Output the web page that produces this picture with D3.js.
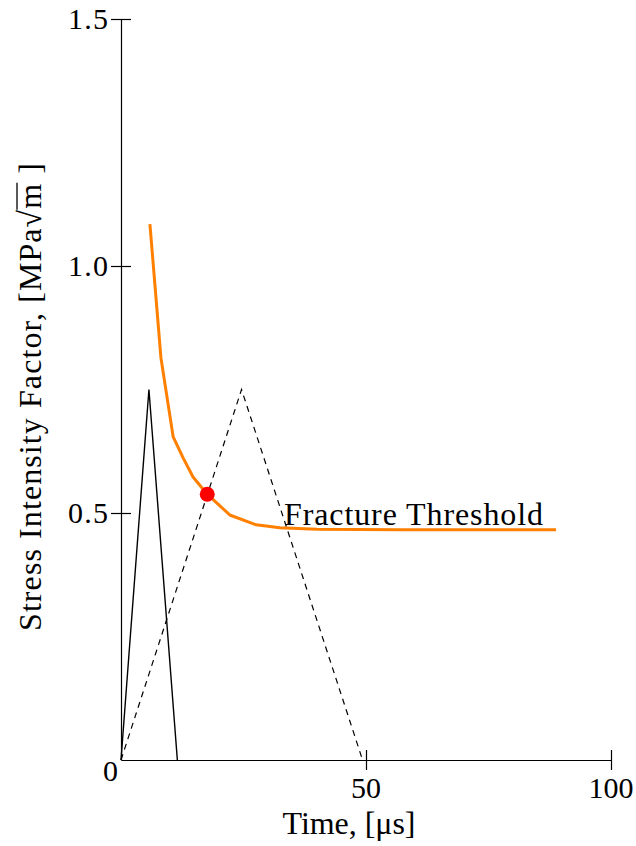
<!DOCTYPE html>
<html>
<head>
<meta charset="utf-8">
<script src="https://cdn.jsdelivr.net/npm/d3@7"></script>
<style>
  html, body { margin: 0; padding: 0; background: #fff; }
  svg { display: block; }
  text { font-family: "Liberation Serif", "DejaVu Serif", serif; fill: #000; }
</style>
</head>
<body>
<svg id="chart" width="636" height="846"></svg>
<script>
// Axis ticks
const timeTicks = [50, 100];
const timeTickLabels = ["50", "100"];
const sifTicks = [0.5, 1.0, 1.5];
const sifTickLabels = ["0.5", "1.0", "1.5"];

// Short loading pulse (solid)
const shortPulseTime = [0, 5.7, 11.5];
const shortPulseK = [0, 0.75, 0];

// Long loading pulse (dashed)
const longPulseTime = [0, 24.6, 49.3];
const longPulseK = [0, 0.75, 0];

// Fracture threshold curve
const thresholdTime = [5.9, 8.15, 10.65, 12.7, 14.7, 17.6, 22.2, 27.6, 32.4, 40, 56.8, 88.8];
const thresholdK = [1.085, 0.814, 0.654, 0.611, 0.573, 0.538, 0.496, 0.476, 0.470, 0.467, 0.466, 0.466];

// Fracture initiation point
const fracturePoint = { time: 17.6, k: 0.538 };

const svg = d3.select("#chart");
const x = d3.scaleLinear().domain([0, 100]).range([121, 611]);
const y = d3.scaleLinear().domain([0, 1.5]).range([760, 19]);
const FS = 30;   // tick numbers
const FT = 32;   // titles and curve label

// Y axis: ticks cross the axis line
const yAxis = svg.append("g")
  .attr("transform", `translate(${x(0)},0)`)
  .call(d3.axisLeft(y).tickValues(sifTicks).tickSize(10).tickSizeOuter(0).tickFormat(""));
yAxis.selectAll(".tick line").attr("x1", 10);
// X axis
const xAxis = svg.append("g")
  .attr("transform", `translate(0,${y(0)})`)
  .call(d3.axisBottom(x).tickValues(timeTicks).tickSize(10).tickSizeOuter(0).tickFormat(""));
xAxis.selectAll(".tick line").attr("y1", -10);
svg.selectAll(".domain, .tick line").attr("stroke", "#000").attr("stroke-width", 1.2);

// Tick labels
svg.selectAll(".ylab").data(sifTicks).join("text")
  .attr("class", "ylab")
  .attr("x", 108).attr("y", d => y(d) + 10)
  .attr("text-anchor", "end").attr("font-size", FS)
  .attr("textLength", 40).attr("lengthAdjust", "spacing")
  .text((d, i) => sifTickLabels[i]);
svg.selectAll(".xlab").data(timeTicks).join("text")
  .attr("class", "xlab")
  .attr("x", d => x(d)).attr("y", 798)
  .attr("text-anchor", "middle").attr("font-size", FS)
  .text((d, i) => timeTickLabels[i]);
svg.append("text")
  .attr("x", 118).attr("y", 781)
  .attr("text-anchor", "end").attr("font-size", FS)
  .text("0");

// Series
const line = d3.line().x(d => x(d[0])).y(d => y(d[1]));

svg.append("path")
  .attr("d", line(d3.zip(longPulseTime, longPulseK)))
  .attr("fill", "none").attr("stroke", "#000").attr("stroke-width", 1.2)
  .attr("stroke-dasharray", "6,5");

svg.append("path")
  .attr("d", line(d3.zip(shortPulseTime, shortPulseK)))
  .attr("fill", "none").attr("stroke", "#000").attr("stroke-width", 1.4);

svg.append("path")
  .attr("d", line(d3.zip(thresholdTime, thresholdK)))
  .attr("fill", "none").attr("stroke", "#ff8000").attr("stroke-width", 3)
  .attr("stroke-linejoin", "round");

svg.append("circle")
  .attr("cx", x(fracturePoint.time)).attr("cy", y(fracturePoint.k))
  .attr("r", 7.5).attr("fill", "#ff0000");

// Curve label
svg.append("text")
  .attr("x", 284).attr("y", 525)
  .attr("font-size", FT)
  .attr("textLength", 259).attr("lengthAdjust", "spacing")
  .text("Fracture Threshold");

// Axis titles
svg.append("text")
  .attr("x", 349).attr("y", 834)
  .attr("text-anchor", "middle").attr("font-size", FT)
  .attr("textLength", 133).attr("lengthAdjust", "spacing")
  .text("Time, [μs]");

const yTitle = svg.append("g").attr("transform", "translate(41,397) rotate(-90)");
const yText = yTitle.append("text")
  .attr("x", 0).attr("y", 0)
  .attr("text-anchor", "middle").attr("font-size", FT)
  .attr("textLength", 468).attr("lengthAdjust", "spacing");
yText.append("tspan").text("Stress Intensity Factor, [MPa");
yText.append("tspan").text("√");
const mSpan = yText.append("tspan").text("m");
yText.append("tspan").text(" ]");
// Overbar of the square root
const mBox = mSpan.node().getBBox();
yTitle.append("line")
  .attr("x1", mBox.x - 1).attr("x2", mBox.x + mBox.width + 1)
  .attr("y1", -24).attr("y2", -24)
  .attr("stroke", "#000").attr("stroke-width", 1.3);
</script>
</body>
</html>
